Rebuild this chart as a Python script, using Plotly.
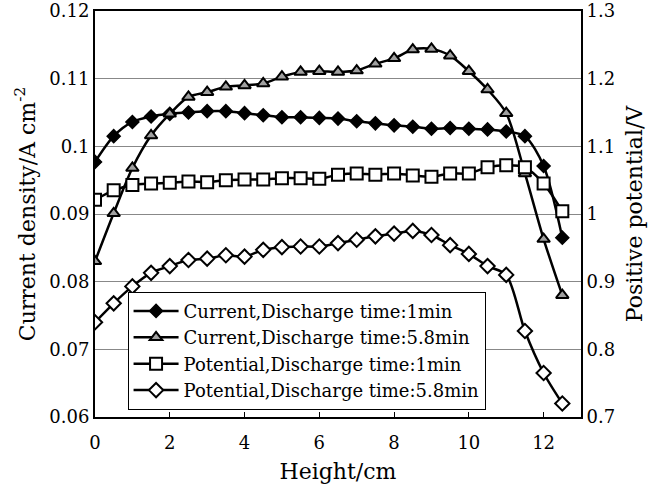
import plotly.graph_objects as go

height_cm = [0, 0.5, 1, 1.5, 2, 2.5, 3, 3.5, 4, 4.5, 5, 5.5, 6, 6.5, 7, 7.5,
             8, 8.5, 9, 9.5, 10, 10.5, 11, 11.5, 12, 12.5]

current_1min = [0.0977, 0.1015, 0.1036, 0.1044, 0.1048, 0.1050, 0.1052, 0.1052,
                0.1049, 0.1046, 0.1043, 0.1043, 0.1042, 0.1041, 0.1037, 0.1034,
                0.1031, 0.1029, 0.1026, 0.1027, 0.1026, 0.1025, 0.1022, 0.1015,
                0.0971, 0.0865]

current_58min = [0.0830, 0.0901, 0.0968, 0.1016, 0.1048, 0.1073, 0.1080, 0.1088,
                 0.1090, 0.1093, 0.1103, 0.1110, 0.1111, 0.1110, 0.1112, 0.1122,
                 0.1130, 0.1143, 0.1144, 0.1134, 0.1111, 0.1084, 0.1049, 0.0960,
                 0.0863, 0.0780]

potential_1min = [1.021, 1.035, 1.043, 1.045, 1.046, 1.048, 1.047, 1.050,
                  1.051, 1.051, 1.053, 1.053, 1.052, 1.058, 1.060, 1.058,
                  1.060, 1.057, 1.055, 1.060, 1.060, 1.069, 1.072, 1.069,
                  1.045, 1.004]

potential_58min = [0.840, 0.868, 0.893, 0.913, 0.923, 0.932, 0.934, 0.939,
                   0.937, 0.947, 0.951, 0.952, 0.952, 0.957, 0.962, 0.967,
                   0.971, 0.975, 0.969, 0.954, 0.941, 0.923, 0.910, 0.827,
                   0.765, 0.720]

series_names = ["Current,Discharge time:1min", "Current,Discharge time:5.8min",
                "Potential,Discharge time:1min", "Potential,Discharge time:5.8min"]

x_ticks = [0, 2, 4, 6, 8, 10, 12]
y1_ticks = [0.06, 0.07, 0.08, 0.09, 0.10, 0.11, 0.12]
y1_labels = ["0.06", "0.07", "0.08", "0.09", "0.1", "0.11", "0.12"]
y2_ticks = [0.7, 0.8, 0.9, 1.0, 1.1, 1.2, 1.3]
y2_labels = ["0.7", "0.8", "0.9", "1", "1.1", "1.2", "1.3"]

FONT = "DejaVu Serif"
line = dict(color="black", width=2.5, shape="spline", smoothing=0.8)

fig = go.Figure()
fig.add_trace(go.Scatter(
    x=height_cm, y=current_1min, name=series_names[0], mode="lines+markers",
    line=line, marker=dict(symbol="diamond", size=10, color="black",
                           line=dict(color="black", width=1.5)),
    yaxis="y"))
fig.add_trace(go.Scatter(
    x=height_cm, y=current_58min, name=series_names[1], mode="lines+markers",
    line=line, marker=dict(symbol="triangle-up", size=11, color="#a0a0a0",
                           line=dict(color="black", width=2)),
    yaxis="y"))
fig.add_trace(go.Scatter(
    x=height_cm, y=potential_1min, name=series_names[2], mode="lines+markers",
    line=line, marker=dict(symbol="square", size=12, color="white",
                           line=dict(color="black", width=2)),
    yaxis="y2"))
fig.add_trace(go.Scatter(
    x=height_cm, y=potential_58min, name=series_names[3], mode="lines+markers",
    line=line, marker=dict(symbol="diamond", size=11, color="white",
                           line=dict(color="black", width=2)),
    yaxis="y2"))

fig.update_layout(
    width=664, height=485,
    margin=dict(l=95, r=83, t=11, b=68, autoexpand=False),
    paper_bgcolor="white", plot_bgcolor="white",
    font=dict(family=FONT, size=18, color="black"),
    showlegend=True,
    legend=dict(x=0.067, y=0.018, xanchor="left", yanchor="bottom",
                bgcolor="white", bordercolor="black", borderwidth=1,
                font=dict(family=FONT, size=18), tracegroupgap=0,
                itemwidth=45),
    xaxis=dict(range=[0, 13], tickvals=x_ticks, ticks="inside", ticklen=5,
               tickcolor="black", showline=True, linecolor="black",
               linewidth=2, mirror=True, showgrid=False, zeroline=False,
               automargin=False, ticklabelstandoff=8,
               title=dict(text="Height/cm", standoff=12)),
    yaxis=dict(range=[0.06, 0.12], tickvals=y1_ticks, ticktext=y1_labels,
               ticks="", showline=True, linecolor="black", linewidth=2,
               showgrid=True, gridcolor="#888888", gridwidth=1,
               zeroline=False, automargin=False, ticklabeloverflow="allow",
               title=dict(text="Current density/A cm<sup>-2</sup>",
                          standoff=8)),
    yaxis2=dict(range=[0.7, 1.3], tickvals=y2_ticks, ticktext=y2_labels,
                overlaying="y", side="right", ticks="", showline=True,
                linecolor="black", linewidth=2, showgrid=False,
                zeroline=False, automargin=False, ticklabeloverflow="allow",
                title=dict(text="Positive potential/V", standoff=12)),
)

fig.write_html("out.html",
               config={"displayModeBar": False},
               post_script="document.body.style.margin='0';")
